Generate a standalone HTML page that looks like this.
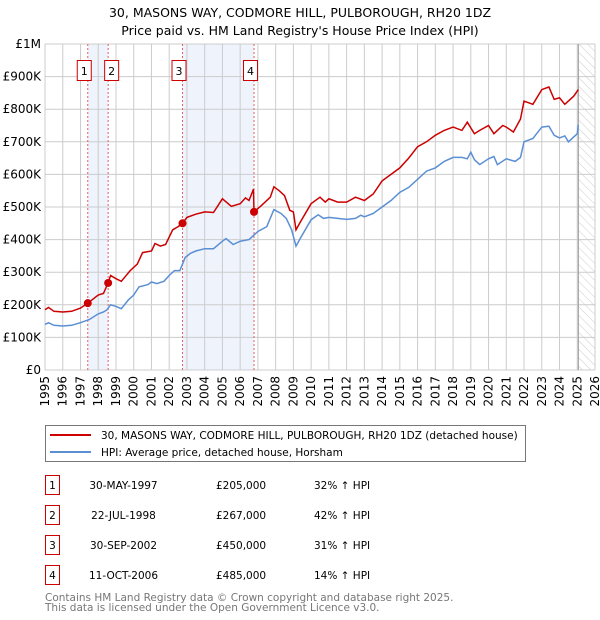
<!DOCTYPE html>
<html><head><meta charset="utf-8"><style>
body{margin:0;background:#fff;font-family:"DejaVu Sans","Liberation Sans",sans-serif;}
#wrap{position:relative;width:600px;height:620px;overflow:hidden}
</style></head><body><div id="wrap">
<svg id="svg" width="600" height="620" xmlns="http://www.w3.org/2000/svg" style="position:absolute;left:0;top:0">
<defs><pattern id="hatch" width="6" height="6" patternUnits="userSpaceOnUse" patternTransform="rotate(-45)"><line x1="0" y1="0" x2="0" y2="6" stroke="#ccc" stroke-width="1"/></pattern></defs>
<text x="300" y="17" text-anchor="middle" font-size="12.5">30, MASONS WAY, CODMORE HILL, PULBOROUGH, RH20 1DZ</text>
<text x="300" y="35" text-anchor="middle" font-size="12.5">Price paid vs. HM Land Registry's House Price Index (HPI)</text>
<g id="plot"></g>
<rect x="45.5" y="425.5" width="480" height="36" fill="none" stroke="#777"/>
<line x1="50" y1="435" x2="91" y2="435" stroke="#cc0000" stroke-width="2"/>
<text x="101" y="439" font-size="10.5">30, MASONS WAY, CODMORE HILL, PULBOROUGH, RH20 1DZ (detached house)</text>
<line x1="50" y1="452" x2="91" y2="452" stroke="#5b8fd4" stroke-width="2"/>
<text x="101" y="456" font-size="10.5">HPI: Average price, detached house, Horsham</text>
<g id="table" font-size="10.5"></g>
<text x="45" y="601" font-size="10.5" fill="#777">Contains HM Land Registry data © Crown copyright and database right 2025.</text>
<text x="45" y="611" font-size="10.5" fill="#777">This data is licensed under the Open Government Licence v3.0.</text>
</svg>
<script>
const hpiYears=[1995,1995.2,1995.5,1996,1996.5,1997,1997.5,1998,1998.3,1998.5,1998.7,1999,1999.3,1999.7,2000,2000.3,2000.8,2001,2001.3,2001.7,2002,2002.3,2002.6,2002.9,2003.2,2003.5,2004,2004.5,2005,2005.2,2005.6,2006,2006.5,2007,2007.5,2007.9,2008.3,2008.6,2008.9,2009.15,2009.4,2010,2010.4,2010.7,2011,2011.5,2012,2012.5,2012.8,2013,2013.5,2014,2014.5,2015,2015.5,2016,2016.5,2017,2017.5,2018,2018.5,2018.8,2019,2019.2,2019.5,2020,2020.3,2020.5,2021,2021.5,2021.8,2022,2022.5,2023,2023.4,2023.7,2024,2024.3,2024.5,2025,2025.06];
const hpiValues=[140,145,137,135,137,145,155,172,178,185,200,195,188,215,230,255,262,270,265,272,290,305,305,345,358,365,372,372,395,403,385,395,400,425,440,492,480,465,430,380,405,461,476,465,468,465,462,465,475,470,480,500,520,545,560,585,610,620,640,652,652,648,668,645,630,648,655,630,648,640,652,700,710,745,748,720,712,718,700,725,752];
const ppYears=[1995,1995.2,1995.5,1996,1996.5,1997,1997.41,1998,1998.3,1998.55,1998.7,1999,1999.3,1999.8,2000.2,2000.5,2001,2001.2,2001.5,2001.8,2002.2,2002.5,2002.75,2003,2003.5,2004,2004.5,2005,2005.5,2006,2006.3,2006.5,2006.75,2006.78,2007.2,2007.7,2007.9,2008.2,2008.5,2008.8,2009,2009.15,2009.4,2010,2010.5,2010.8,2011,2011.5,2012,2012.5,2013,2013.5,2014,2014.5,2015,2015.5,2016,2016.5,2017,2017.5,2018,2018.5,2018.8,2019.2,2019.5,2020,2020.3,2020.8,2021,2021.4,2021.8,2022,2022.5,2023,2023.4,2023.7,2024,2024.3,2024.8,2025.06];
const ppValues=[185,192,180,178,180,190,205,230,235,267,290,280,272,305,325,360,365,388,380,385,430,440,450,468,478,485,483,525,502,510,528,520,555,485,505,530,562,550,535,490,485,430,455,510,530,515,525,515,515,530,520,540,580,600,620,650,685,700,720,735,745,735,760,725,735,750,725,750,745,730,770,825,815,860,868,830,835,815,840,860];
const saleLabels=["1","2","3","4"];
const saleYears=[1997.41,1998.56,2002.75,2006.78];
const salePrices=[205,267,450,485];
const saleDates=["30-MAY-1997","22-JUL-1998","30-SEP-2002","11-OCT-2006"];
const salePriceText=["£205,000","£267,000","£450,000","£485,000"];
const salePct=["32% ↑ HPI","42% ↑ HPI","31% ↑ HPI","14% ↑ HPI"];
const yTicks=[0,100,200,300,400,500,600,700,800,900,1000];
const yTickLabels=["£0","£100K","£200K","£300K","£400K","£500K","£600K","£700K","£800K","£900K","£1M"];
const xTicks=[1995,1996,1997,1998,1999,2000,2001,2002,2003,2004,2005,2006,2007,2008,2009,2010,2011,2012,2013,2014,2015,2016,2017,2018,2019,2020,2021,2022,2023,2024,2025,2026];
const dataEndYear=2025.06;

const NS="http://www.w3.org/2000/svg";
const X0=45,X1=595,Y0=370,Y1=44;
const xs=y=>X0+(y-1995)/(2026-1995)*(X1-X0);
const ys=v=>Y0-v/1000*(Y0-Y1);
const plot=document.getElementById('plot');
function mk(tag,attrs,parent){const e=document.createElementNS(NS,tag);for(const k in attrs)e.setAttribute(k,attrs[k]);(parent||plot).appendChild(e);return e;}
for(const [a,b] of [[0,1],[2,3]]){
 const r=mk('rect',{x:xs(saleYears[a]),y:Y1,width:xs(saleYears[b])-xs(saleYears[a]),height:Y0-Y1,fill:'#eef3fc'});
 
 
}
const h=mk('rect',{x:xs(dataEndYear),y:Y1,width:X1-xs(dataEndYear),height:Y0-Y1,fill:'url(#hatch)'});


yTicks.forEach((t,i)=>{
 const l=mk('line',{x1:X0,x2:X1,y1:ys(t),y2:ys(t),stroke:'#ccc','stroke-width':1});
 
 
 const tx=mk('text',{x:X0-4,y:ys(t)+4,'text-anchor':'end','font-size':'12'});
 tx.textContent=yTickLabels[i];
 
 
});
xTicks.forEach(t=>{
 const l=mk('line',{x1:xs(t),x2:xs(t),y1:Y1,y2:Y0,stroke:'#ccc','stroke-width':1});
 
 
 const tx=mk('text',{x:0,y:0,'text-anchor':'end','font-size':'12',transform:`translate(${xs(t)+4},${Y0+6}) rotate(-90)`});
 tx.textContent=t;
 
 
});
const el=mk('line',{x1:xs(dataEndYear),x2:xs(dataEndYear),y1:Y1,y2:Y0,stroke:'#999','stroke-width':1});


saleYears.forEach(y=>{
 const l=mk('line',{x1:xs(y),x2:xs(y),y1:Y1,y2:Y0,stroke:'#e06060','stroke-width':1,'stroke-dasharray':'2,2'});
 
 
});
const path=(xa,va)=>xa.map((x,i)=>(i?'L':'M')+xs(x).toFixed(1)+','+ys(va[i]).toFixed(1)).join('');
const hp=mk('path',{d:path(hpiYears,hpiValues),fill:'none',stroke:'#5b8fd4','stroke-width':1.5});


const pp=mk('path',{d:path(ppYears,ppValues),fill:'none',stroke:'#cc0000','stroke-width':1.5});


const boxOffsets=[-10,-3,-10,-10];
saleYears.forEach((y,i)=>{
 const c=mk('circle',{cx:xs(y),cy:ys(salePrices[i]),r:4,fill:'#cc0000'});
 
 
 const bxx=xs(y)+boxOffsets[i];
 const r=mk('rect',{x:bxx-0.5,y:60.5,width:14,height:20,fill:'#fff',stroke:'#cc0000'});
 
 
 const t=mk('text',{x:bxx+6.5,y:75,'text-anchor':'middle','font-size':'11'});
 t.textContent=saleLabels[i];
 
 
});
const tb=document.getElementById('table');
saleLabels.forEach((s,i)=>{
 const cy=485+i*30;
 const r=mk('rect',{x:45.5,y:cy-9.5,width:14,height:19,fill:'none',stroke:'#cc0000'},tb);
 
 
 const vals=[[52.5,s,'middle'],[123.5,saleDates[i],'middle'],[216,salePriceText[i],'start'],[314,salePct[i],'start']];
 const names=['table-row-number','table-row-date','table-row-price','table-row-hpi-change'];
 vals.forEach((v,j)=>{
  const t=mk('text',{x:v[0],y:cy+4,'text-anchor':v[2]},tb);
  t.textContent=v[1];
  
  
 });
});
</script>
</div></body></html>
